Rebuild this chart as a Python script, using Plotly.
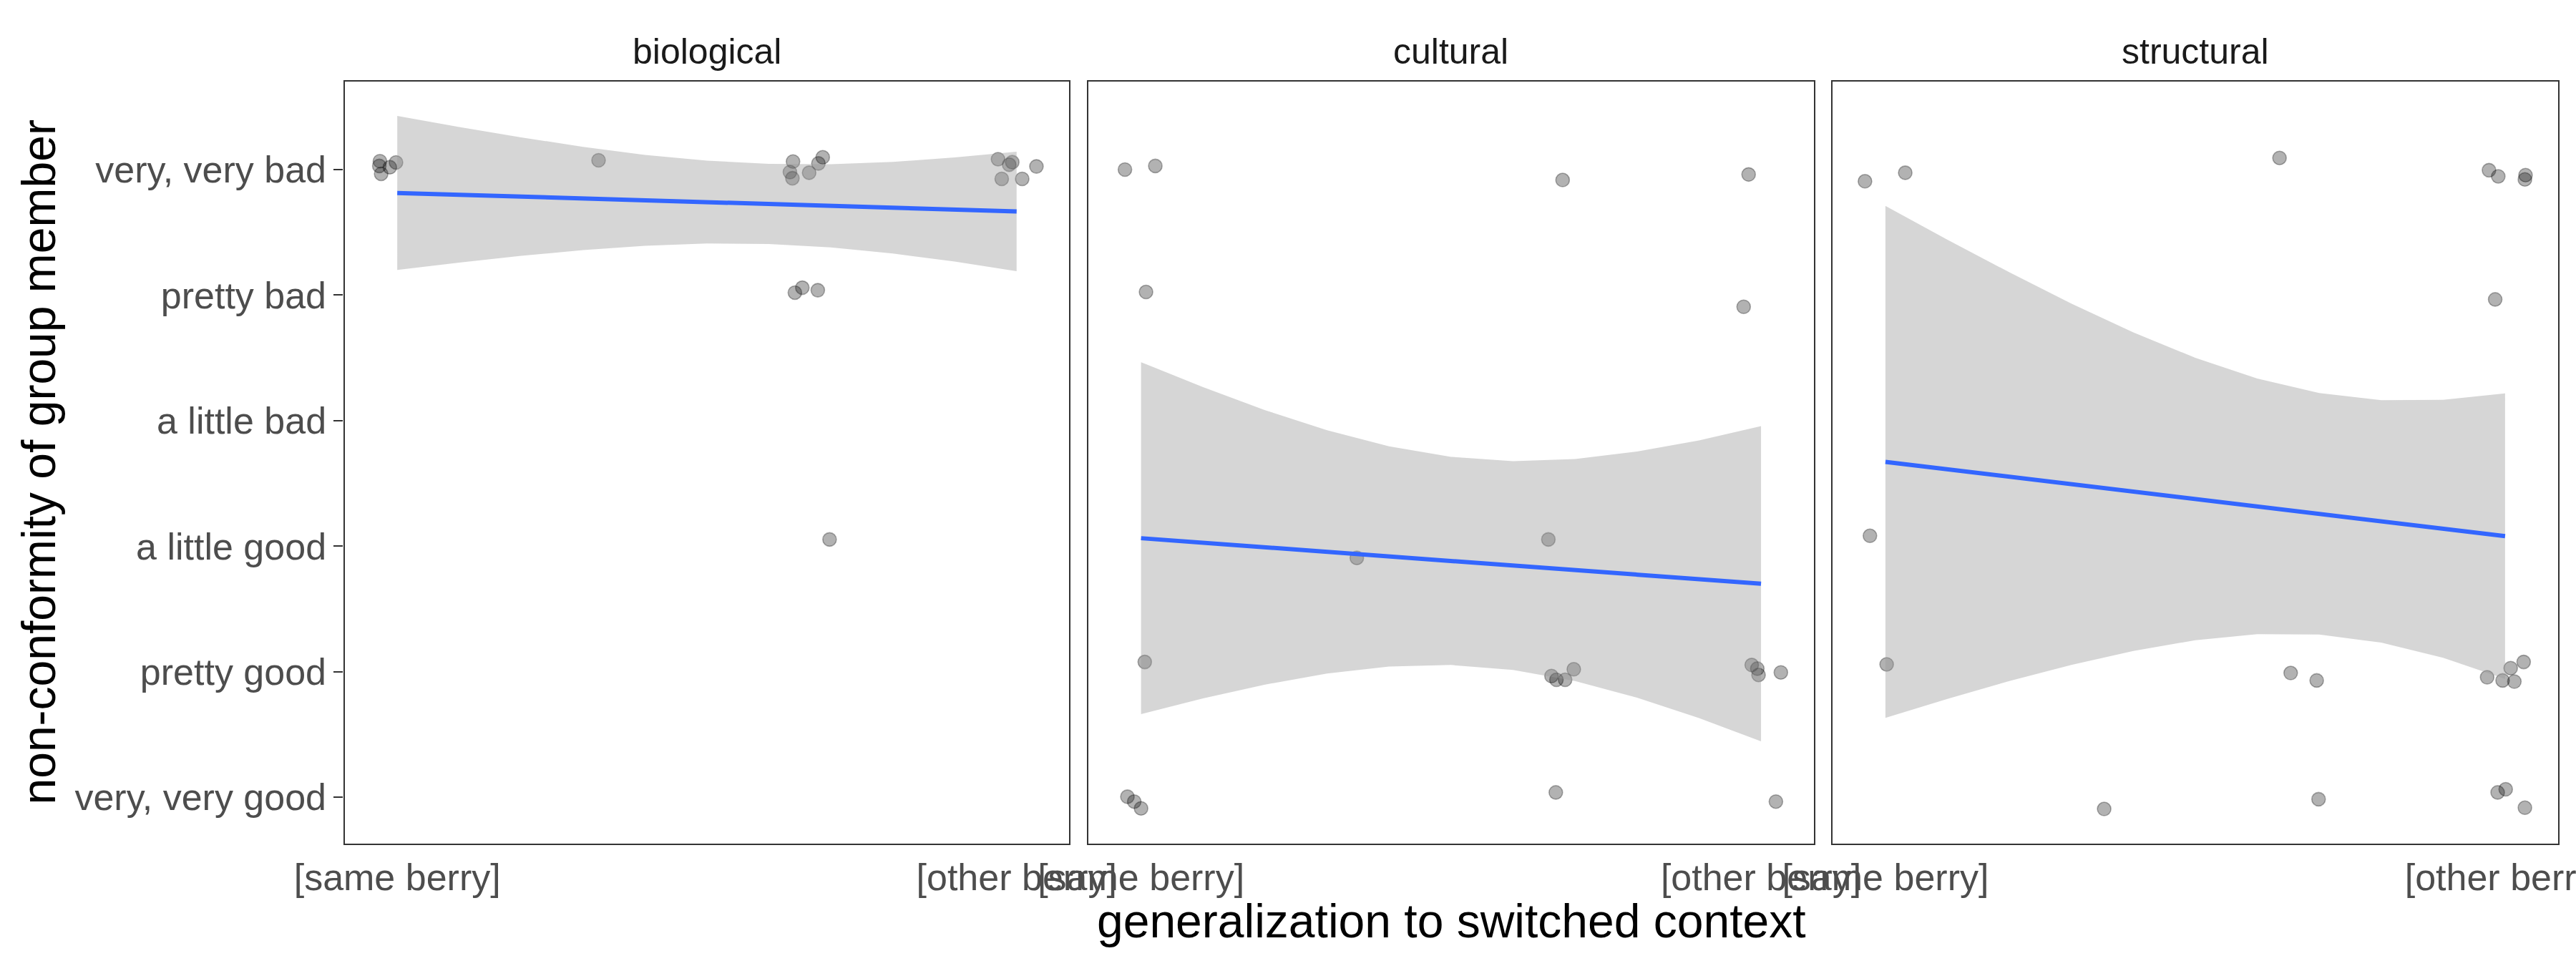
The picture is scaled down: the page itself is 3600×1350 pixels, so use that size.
import plotly.graph_objects as go

# ---------------- data ----------------
panels = ["biological", "cultural", "structural"]

y_tick_vals = [1, 2, 3, 4, 5, 6]
y_tick_text = ["very, very good", "pretty good", "a little good",
               "a little bad", "pretty bad", "very, very bad"]
x_tick_vals = [0, 1]
x_tick_text = ["[same berry]", "[other berry]"]

# jittered observations
bio_x = [-0.028, -0.029, -0.026, -0.012, -0.002, 0.325,
         0.639, 0.634, 0.638, 0.665, 0.680, 0.687,
         0.970, 0.988, 0.993, 0.976, 1.009, 1.032,
         0.642, 0.654, 0.679, 0.698]
bio_y = [6.067, 6.029, 5.966, 6.019, 6.057, 6.074,
         6.064, 5.980, 5.931, 5.975, 6.049, 6.098,
         6.083, 6.039, 6.059, 5.926, 5.926, 6.025,
         5.020, 5.059, 5.039, 3.054]

cul_x = [-0.026, 0.023, 0.008, 0.006, -0.022, -0.011, 0.000,
         0.348, 0.680, 0.657, 0.662, 0.670, 0.684, 0.698, 0.669,
         0.980, 0.972, 0.985, 0.994, 0.996, 1.032, 1.024]
cul_y = [6.000, 6.029, 5.025, 2.078, 1.005, 0.966, 0.912,
         2.907, 5.917, 3.054, 1.966, 1.936, 1.936, 2.020, 1.039,
         5.961, 4.907, 2.054, 2.025, 1.975, 1.995, 0.966]

str_x = [-0.033, 0.032, -0.025, 0.002, 0.636, 0.353, 0.654, 0.696, 0.699,
         0.974, 0.989, 1.033, 1.032, 0.984, 0.971, 0.996, 1.009, 1.015,
         1.030, 0.988, 1.001, 1.032]
str_y = [5.907, 5.975, 3.083, 2.059, 6.093, 0.907, 1.990, 1.931, 0.985,
         5.995, 5.946, 5.956, 5.922, 4.966, 1.956, 1.931, 2.029, 1.922,
         2.078, 1.039, 1.064, 0.917]

# linear smooth: fitted line and confidence band, read at these x positions
band_x = [0.0, 0.1, 0.2, 0.3, 0.4, 0.5, 0.6, 0.7, 0.8, 0.9, 1.0]

bio_fit = [5.814, 5.799, 5.785, 5.770, 5.755, 5.741, 5.726, 5.711, 5.696, 5.682, 5.667]
bio_hi = [6.427, 6.339, 6.257, 6.181, 6.117, 6.071, 6.045, 6.042, 6.061, 6.097, 6.143]
bio_lo = [5.201, 5.259, 5.313, 5.359, 5.393, 5.411, 5.407, 5.380, 5.331, 5.267, 5.191]

cul_fit = [3.064, 3.028, 2.991, 2.955, 2.919, 2.883, 2.846, 2.810, 2.774, 2.737, 2.701]
cul_hi = [4.466, 4.268, 4.084, 3.924, 3.796, 3.712, 3.677, 3.694, 3.754, 3.843, 3.956]
cul_lo = [1.662, 1.788, 1.898, 1.986, 2.042, 2.054, 2.015, 1.926, 1.794, 1.631, 1.446]

str_fit = [3.672, 3.613, 3.554, 3.494, 3.435, 3.376, 3.317, 3.258, 3.198, 3.139, 3.080]
str_hi = [5.711, 5.442, 5.182, 4.933, 4.704, 4.501, 4.335, 4.220, 4.163, 4.166, 4.217]
str_lo = [1.633, 1.784, 1.926, 2.055, 2.166, 2.251, 2.299, 2.296, 2.233, 2.112, 1.943]

# ---------------- figure ----------------
W, H = 3600, 1350
FONT = "Liberation Sans, Arial, sans-serif"
x_domains = [[481.6 / W, 1494.3 / W], [1521.0 / W, 2534.7 / W], [2561.3 / W, 3574.5 / W]]
y_domain = [1 - 1179.0 / H, 1 - 114.0 / H]
x_range = [-0.085, 1.085]
y_range = [0.631, 6.701]

series = [
    (bio_x, bio_y, bio_fit, bio_hi, bio_lo),
    (cul_x, cul_y, cul_fit, cul_hi, cul_lo),
    (str_x, str_y, str_fit, str_hi, str_lo),
]

fig = go.Figure()
for i, (px, py, fit, hi, lo) in enumerate(series):
    xa = "x" if i == 0 else f"x{i+1}"
    ya = "y" if i == 0 else f"y{i+1}"
    fig.add_trace(go.Scatter(
        x=px, y=py, mode="markers", xaxis=xa, yaxis=ya, showlegend=False,
        marker=dict(size=19, color="rgba(0,0,0,0.3)",
                    line=dict(color="rgba(0,0,0,0.3)", width=1.6)),
    ))
    fig.add_trace(go.Scatter(
        x=band_x + band_x[::-1], y=hi + lo[::-1], mode="lines", fill="toself",
        fillcolor="rgba(153,153,153,0.4)", line=dict(width=0),
        xaxis=xa, yaxis=ya, showlegend=False, hoverinfo="skip",
    ))
    fig.add_trace(go.Scatter(
        x=band_x, y=fit, mode="lines", line=dict(color="#3366FF", width=6),
        xaxis=xa, yaxis=ya, showlegend=False,
    ))

axis_common = dict(showline=True, mirror=True, linecolor="#333333", linewidth=2.3,
                   showgrid=False, zeroline=False, automargin=False)

layout = dict(
    width=W, height=H, margin=dict(l=0, r=0, t=0, b=0, autoexpand=False),
    paper_bgcolor="white", plot_bgcolor="white",
    font=dict(family=FONT),
    annotations=[],
)
for i in range(3):
    sfx = "" if i == 0 else str(i + 1)
    layout["xaxis" + sfx] = dict(
        domain=x_domains[i], range=x_range, anchor="y" + sfx,
        tickmode="array", tickvals=x_tick_vals, ticktext=x_tick_text,
        ticks="", tickfont=dict(size=52, color="#4d4d4d", family=FONT),
        ticklabeloverflow="allow", **axis_common,
    )
    ydict = dict(domain=y_domain, range=y_range, anchor="x" + sfx,
                 tickmode="array", tickvals=y_tick_vals, **axis_common)
    if i == 0:
        ydict.update(ticktext=y_tick_text, ticks="outside", ticklen=13, tickwidth=2.3,
                     tickcolor="#333333",
                     tickfont=dict(size=52, color="#4d4d4d", family=FONT))
    else:
        ydict.update(ticktext=["" for _ in y_tick_vals], ticks="", showticklabels=False)
    layout["yaxis" + sfx] = ydict
    layout["annotations"].append(dict(
        text=panels[i], x=(x_domains[i][0] + x_domains[i][1]) / 2, y=1 - 72.0 / H,
        xref="paper", yref="paper", xanchor="center", yanchor="middle",
        showarrow=False, font=dict(size=50, color="#1a1a1a", family=FONT),
    ))

layout["annotations"].append(dict(
    text="generalization to switched context", x=2028.0 / W, y=1 - 1286.7 / H,
    xref="paper", yref="paper", xanchor="center", yanchor="middle",
    showarrow=False, font=dict(size=66, color="black", family=FONT),
))
layout["annotations"].append(dict(
    text="non-conformity of group member", x=53.0 / W, y=(y_domain[0] + y_domain[1]) / 2,
    xref="paper", yref="paper", xanchor="center", yanchor="middle", textangle=-90,
    showarrow=False, font=dict(size=66, color="black", family=FONT),
))

fig.update_layout(**layout)
fig.write_html(
    "out.html",
    config={"displayModeBar": False},
    post_script="document.body.style.margin='0';document.body.style.overflow='hidden';",
)
